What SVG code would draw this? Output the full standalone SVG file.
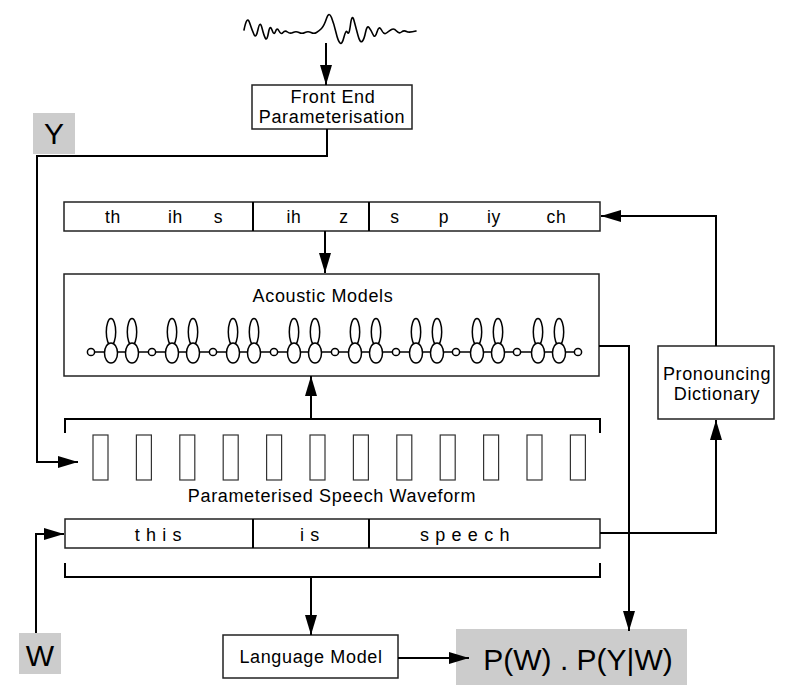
<svg xmlns="http://www.w3.org/2000/svg" width="788" height="694" viewBox="0 0 788 694">
<defs>
<style>
text{font-family:"Liberation Sans",Arial,Helvetica,sans-serif;fill:#000;letter-spacing:0.65px}
.t18{font-size:18px;text-anchor:middle}
.t17{font-size:17.5px;text-anchor:middle}
.box{fill:#fff;stroke:#222;stroke-width:1.5}
.gray{fill:#cccccc;stroke:none}
.div{stroke:#000;stroke-width:2}
.frame{fill:#fff;stroke:#333;stroke-width:1.2}
.conn{fill:none;stroke:#000;stroke-width:2}
.brk{fill:none;stroke:#000;stroke-width:2}
.hmm{fill:#fff;stroke:#000;stroke-width:1.5}
</style>
<marker id="arr" markerUnits="userSpaceOnUse" markerWidth="20" markerHeight="12" refX="20" refY="6" orient="auto">
<path d="M0,0 L20,6 L0,12 z" fill="#000"/>
</marker>
</defs>
<rect width="788" height="694" fill="#fff"/>

<g id="waveform">
<path fill="none" stroke="#000" stroke-width="1.6" stroke-linejoin="round" stroke-linecap="round" d="M244,30 Q247,15 249.5,22.5 Q252,30 254,34.5 Q256,39 258,29.5 Q260,20 262,28 Q264,36 265.5,38.5 Q267,41 268.5,32.5 Q270,24 272,30 Q274,36 275.5,31.5 Q277,27 279,31 Q281,35 283,32.5 Q285,30 287.5,32 Q290,34 293,32.5 Q296,31 299,32.5 Q302,34 305,32.5 Q308,31 311,32.5 Q314,34 316.5,32.5 Q319,31 321.5,28.5 Q324,26 326.5,18.5 Q329,11 331.5,17.5 Q334,24 336,32.5 Q338,41 340,43 Q342,45 344,37 Q346,29 347.5,32.5 Q349,36 350.5,24.5 Q352,13 354,20.5 Q356,28 358,35.5 Q360,43 362,41.5 Q364,40 365.5,32.5 Q367,25 369,27.5 Q371,30 373,34.5 Q375,39 377,32 Q379,25 381.5,30 Q384,35 386.5,33 Q389,31 391.5,29.5 Q394,28 396.5,31 Q399,34 401.5,32 Q404,30 406.5,31.5 Q409,33 416,31"/>
</g>

<g id="frontend">
<rect class="box" x="252" y="85" width="160" height="44"/>
<text class="t18" x="333" y="103">Front End</text>
<text class="t18" x="332" y="123">Parameterisation</text>
</g>

<g id="Y">
<rect class="gray" x="33" y="113" width="42" height="41"/>
<text x="54" y="144" style="font-size:30px;text-anchor:middle;letter-spacing:0">Y</text>
</g>

<g id="W">
<rect class="gray" x="19" y="633" width="42" height="41"/>
<text x="40" y="666" style="font-size:30px;text-anchor:middle;letter-spacing:0">W</text>
</g>

<g id="phonemes">
<rect class="box" x="64" y="202" width="536" height="29"/>
<line class="div" x1="253" y1="202" x2="253" y2="231"/>
<line class="div" x1="369" y1="202" x2="369" y2="231"/>
<text class="t17" x="113" y="223">th</text>
<text class="t17" x="175.5" y="223">ih</text>
<text class="t17" x="218.5" y="223">s</text>
<text class="t17" x="294" y="223">ih</text>
<text class="t17" x="344" y="223">z</text>
<text class="t17" x="395" y="223">s</text>
<text class="t17" x="444" y="223">p</text>
<text class="t17" x="494" y="223">iy</text>
<text class="t17" x="556.5" y="223">ch</text>
</g>

<g id="acoustic">
<rect class="box" x="64" y="274" width="535" height="102"/>
<text class="t18" x="323" y="302">Acoustic Models</text>
<line x1="91" y1="352" x2="578" y2="352" stroke="#000" stroke-width="1.5"/>
<g class="hmm">
<ellipse cx="111" cy="332" rx="4.7" ry="13.5"/><ellipse cx="132" cy="332" rx="4.7" ry="13.5"/>
<ellipse cx="172" cy="332" rx="4.7" ry="13.5"/><ellipse cx="193" cy="332" rx="4.7" ry="13.5"/>
<ellipse cx="233" cy="332" rx="4.7" ry="13.5"/><ellipse cx="254" cy="332" rx="4.7" ry="13.5"/>
<ellipse cx="294" cy="332" rx="4.7" ry="13.5"/><ellipse cx="315" cy="332" rx="4.7" ry="13.5"/>
<ellipse cx="355" cy="332" rx="4.7" ry="13.5"/><ellipse cx="376" cy="332" rx="4.7" ry="13.5"/>
<ellipse cx="416" cy="332" rx="4.7" ry="13.5"/><ellipse cx="437" cy="332" rx="4.7" ry="13.5"/>
<ellipse cx="477" cy="332" rx="4.7" ry="13.5"/><ellipse cx="498" cy="332" rx="4.7" ry="13.5"/>
<ellipse cx="538" cy="332" rx="4.7" ry="13.5"/><ellipse cx="559" cy="332" rx="4.7" ry="13.5"/>
<ellipse cx="111" cy="353" rx="6.5" ry="10"/><ellipse cx="132" cy="353" rx="6.5" ry="10"/>
<ellipse cx="172" cy="353" rx="6.5" ry="10"/><ellipse cx="193" cy="353" rx="6.5" ry="10"/>
<ellipse cx="233" cy="353" rx="6.5" ry="10"/><ellipse cx="254" cy="353" rx="6.5" ry="10"/>
<ellipse cx="294" cy="353" rx="6.5" ry="10"/><ellipse cx="315" cy="353" rx="6.5" ry="10"/>
<ellipse cx="355" cy="353" rx="6.5" ry="10"/><ellipse cx="376" cy="353" rx="6.5" ry="10"/>
<ellipse cx="416" cy="353" rx="6.5" ry="10"/><ellipse cx="437" cy="353" rx="6.5" ry="10"/>
<ellipse cx="477" cy="353" rx="6.5" ry="10"/><ellipse cx="498" cy="353" rx="6.5" ry="10"/>
<ellipse cx="538" cy="353" rx="6.5" ry="10"/><ellipse cx="559" cy="353" rx="6.5" ry="10"/>
<circle cx="91" cy="352" r="3.6"/><circle cx="152" cy="352" r="3.6"/><circle cx="213" cy="352" r="3.6"/>
<circle cx="274" cy="352" r="3.6"/><circle cx="335" cy="352" r="3.6"/><circle cx="396" cy="352" r="3.6"/>
<circle cx="456" cy="352" r="3.6"/><circle cx="517" cy="352" r="3.6"/><circle cx="578" cy="352" r="3.6"/>
</g>
</g>

<g id="speechwaveform">
<path class="brk" d="M65,433 V419 H600 V433"/>
<rect class="frame" x="93" y="435" width="15" height="45"/>
<rect class="frame" x="136.4" y="435" width="15" height="45"/>
<rect class="frame" x="179.8" y="435" width="15" height="45"/>
<rect class="frame" x="223.2" y="435" width="15" height="45"/>
<rect class="frame" x="266.6" y="435" width="15" height="45"/>
<rect class="frame" x="310" y="435" width="15" height="45"/>
<rect class="frame" x="353.4" y="435" width="15" height="45"/>
<rect class="frame" x="396.8" y="435" width="15" height="45"/>
<rect class="frame" x="440.2" y="435" width="15" height="45"/>
<rect class="frame" x="483.6" y="435" width="15" height="45"/>
<rect class="frame" x="527" y="435" width="15" height="45"/>
<rect class="frame" x="570.4" y="435" width="15" height="45"/>
<text class="t18" x="332" y="502">Parameterised Speech Waveform</text>
</g>

<g id="words">
<rect class="box" x="65" y="519" width="535" height="29"/>
<line class="div" x1="253" y1="519" x2="253" y2="548"/>
<line class="div" x1="369" y1="519" x2="369" y2="548"/>
<text class="t18" x="158.5" y="541">t h i s</text>
<text class="t18" x="310" y="541">i s</text>
<text class="t18" x="465" y="541">s p e e c h</text>
<path class="brk" d="M65,563 V577 H600 V563"/>
</g>

<g id="dictionary">
<rect class="box" x="658" y="346" width="116" height="73"/>
<text class="t18" x="717" y="380">Pronouncing</text>
<text class="t18" x="717" y="400">Dictionary</text>
</g>

<g id="languagemodel">
<rect class="box" x="223" y="635" width="175" height="43"/>
<text class="t18" x="311" y="663">Language Model</text>
</g>

<g id="result">
<rect class="gray" x="456" y="629" width="231" height="56"/>
<text x="578" y="670" style="font-size:30px;text-anchor:middle;letter-spacing:0">P(W) . P(Y|W)</text>
</g>

<g id="connectors">
<path class="conn" d="M326,43 V85" marker-end="url(#arr)"/>
<path class="conn" d="M327,129 V156 H37 V462 H78" marker-end="url(#arr)"/>
<path class="conn" d="M325,231 V273" marker-end="url(#arr)"/>
<path class="conn" d="M311,419 V376" marker-end="url(#arr)"/>
<path class="conn" d="M599,346 H629 V631" marker-end="url(#arr)"/>
<path class="conn" d="M600,533 H716 V420" marker-end="url(#arr)"/>
<path class="conn" d="M716,346 V216 H601" marker-end="url(#arr)"/>
<path class="conn" d="M36,633 V534 H64" marker-end="url(#arr)"/>
<path class="conn" d="M311,577 V635" marker-end="url(#arr)"/>
<path class="conn" d="M398,658 H469" marker-end="url(#arr)"/>
</g>
</svg>
